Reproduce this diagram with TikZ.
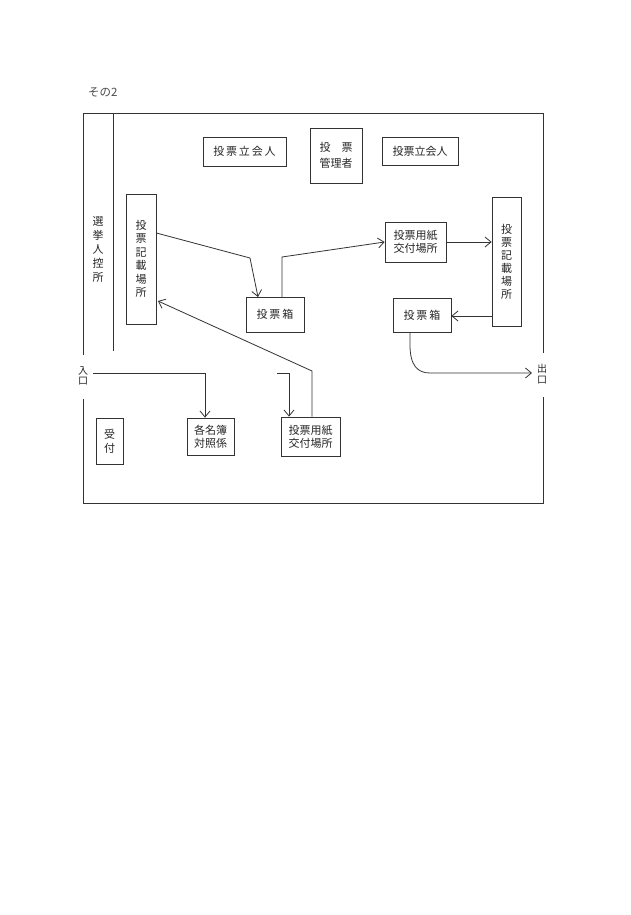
\documentclass[tikz,border=0pt]{standalone}
\usepackage{fontspec}
\newfontfamily\cjk{Noto Sans CJK JP}
\usetikzlibrary{arrows.meta}
\begin{document}
\begin{tikzpicture}[x=1pt,y=-1pt,
  ln/.style={draw=black!80,line width=0.8pt},
  box/.style={ln,rectangle,inner sep=0pt,font=\cjk\fontsize{11}{13}\selectfont,align=center,text=black!85},
  arr/.style={ln,-{Straight Barb[length=6pt,width=10pt]}},
  vt/.style={font=\cjk\fontsize{11}{13.5}\selectfont,align=center,inner sep=0pt,text=black!85}]
\useasboundingbox (0,0) rectangle (630,915);
\fill[white] (0,0) rectangle (630,915);
% title
\node[font=\cjk\fontsize{11.5}{13}\selectfont,text=black!70,anchor=west,inner sep=0pt] (title) at (88,92) {その2};
% frame
\draw[ln] (83,355) -- (83,113) -- (543,113) -- (543,353);
\draw[ln] (543,397) -- (543,503) -- (83,503) -- (83,399);
\draw[ln] (113,113) -- (113,351);
\node[vt,font=\cjk\fontsize{11}{14}\selectfont] (hikae) at (98,249) {選\\挙\\人\\控\\所};
\node[vt,font=\cjk\fontsize{10}{10.5}\selectfont] (iri) at (83,376) {入\\口};
\node[vt,font=\cjk\fontsize{10}{10.5}\selectfont] (de) at (542,374) {出\\口};
% top row
\node[box,minimum width=83,minimum height=29] (tachi1) at (244.5,151.5) {投\,票\,立\,会\,人};
\node[box,minimum width=52,minimum height=55] (kanri) at (336,155.5) {投\quad 票\\[3pt]管理者};
\node[box,minimum width=76,minimum height=28] (tachi2) at (420,151) {投票立会人};
% left writing place
\node[box,minimum width=30,minimum height=130] (kisai1) at (141,259) {};
\node[vt] at (kisai1) {投\\票\\記\\載\\場\\所};
% left ballot box
\node[box,minimum width=58,minimum height=35] (bako1) at (275,314.5) {投\,票\,箱};
% upper issuing place
\node[box,minimum width=61,minimum height=40] (yoshi2) at (415.5,242) {投票用紙\\交付場所};
% right writing place
\node[box,minimum width=29,minimum height=129] (kisai2) at (506.5,261.5) {};
\node[vt,font=\cjk\fontsize{11}{13}\selectfont] at (kisai2) {投\\票\\記\\載\\場\\所};
% right ballot box
\node[box,minimum width=58,minimum height=34] (bako2) at (422,315) {投\,票\,箱};
% bottom row
\node[box,minimum width=27,minimum height=46] (uke) at (109.5,441) {};
\node[vt,font=\cjk\fontsize{11}{14}\selectfont] at (uke) {受\\付};
\node[box,minimum width=47,minimum height=37] (meibo) at (210.5,436.5) {各名簿\\対照係};
\node[box,minimum width=59,minimum height=39] (yoshi1) at (310.5,436.5) {投票用紙\\交付場所};
% connectors
\coordinate (c1) at (250,258);
\draw[arr] (kisai1.east |- 0,233) -- (c1) -- (258,297);
\coordinate (c2) at (282,257);
\draw[arr] (282,297) -- (c2) -- (yoshi2.west);
\draw[arr] (yoshi2.east) -- (kisai2.west |- yoshi2.east);
\draw[arr] (kisai2.west |- 0,316) -- (bako2.east |- 0,316);
\draw[arr] (410,332) -- (410,345) .. controls (410,366) and (418,373) .. (430,373) -- (532,373);
\coordinate (e1) at (205,373);
\draw[arr] (93,373) -- (e1) -- (meibo.north -| e1);
\coordinate (e2) at (289,373);
\draw[arr] (277,373) -- (e2) -- (yoshi1.north -| e2);
\coordinate (e3) at (312,371);
\draw[arr] (yoshi1.north -| e3) -- (e3) -- (158,301);
\end{tikzpicture}
\end{document}
